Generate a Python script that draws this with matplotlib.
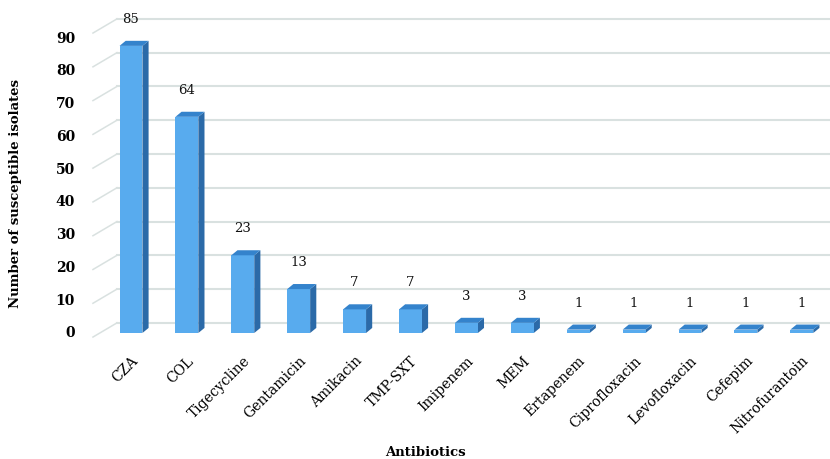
import matplotlib.pyplot as plt
from matplotlib.patches import Polygon

antibiotics = ["CZA", "COL", "Tigecycline", "Gentamicin", "Amikacin", "TMP-SXT",
               "Imipenem", "MEM", "Ertapenem", "Ciprofloxacin", "Levofloxacin",
               "Cefepim", "Nitrofurantoin"]
susceptible = [85, 64, 23, 13, 7, 7, 3, 3, 1, 1, 1, 1, 1]
grid_values = [0, 10, 20, 30, 40, 50, 60, 70, 80, 90]

# faux-3D geometry, in data units
BAR_W = 0.41
DEPTH_X, DEPTH_Y = 0.11, 1.5          # bar depth offset
WALL_X0, WALL_X1 = -0.68, -0.25       # side wall front / back edge
WALL_DY0, WALL_DY1 = -1.2, 3.0        # side wall rise front -> back

FRONT = "#58abee"
SIDE = "#2b6aa8"
TOP = "#3483cc"
GRID = "#d9e1e0"

plt.rcParams["font.family"] = "DejaVu Serif"

fig = plt.figure(figsize=(8.3, 4.59), dpi=100)
ax = fig.add_axes([90 / 830, 126 / 459, 740 / 830, 304 / 459])
ax.set_xlim(-0.733, 12.504)
ax.set_ylim(0, 90)
for s in ax.spines.values():
    s.set_visible(False)

# back wall and side wall gridlines
for v in grid_values:
    ax.plot([WALL_X1, 12.504], [v + WALL_DY1] * 2, color=GRID, lw=1.5,
            zorder=1, clip_on=False)
    ax.plot([WALL_X0, WALL_X1], [v + WALL_DY0, v + WALL_DY1], color=GRID,
            lw=1.1, zorder=1, clip_on=False)

x = list(range(len(antibiotics)))
ax.bar(x, susceptible, width=BAR_W, color=FRONT, zorder=3, clip_on=False)
for xi, v in zip(x, susceptible):
    r = xi + BAR_W / 2
    l = xi - BAR_W / 2
    side = Polygon([(r, 0), (r + DEPTH_X, DEPTH_Y), (r + DEPTH_X, v + DEPTH_Y), (r, v)],
                   closed=True, facecolor=SIDE, edgecolor="none", zorder=2, clip_on=False)
    top = Polygon([(l, v), (r, v), (r + DEPTH_X, v + DEPTH_Y), (l + DEPTH_X, v + DEPTH_Y)],
                  closed=True, facecolor=TOP, edgecolor="none", zorder=4, clip_on=False)
    ax.add_patch(side)
    ax.add_patch(top)
    ax.annotate(str(v), (xi, v), xytext=(0, 19), textcoords="offset points",
                ha="center", va="center", fontsize=9.5, color="#111111")

# y labels sit on the receding side wall
label_y = [0.3 + 0.97 * v for v in grid_values]
ax.set_yticks(label_y, [str(v) for v in grid_values])
ax.tick_params(axis="y", length=0, pad=10.8, labelsize=10)
for t in ax.get_yticklabels():
    t.set_fontweight("bold")

ax.set_xticks(x, antibiotics)
ax.tick_params(axis="x", length=0, pad=15, labelsize=10)
plt.setp(ax.get_xticklabels(), rotation=45, ha="right", rotation_mode="anchor")

fig.text(425 / 830, 1 - 453 / 459, "Antibiotics", ha="center", va="center",
         fontsize=9.5, fontweight="bold")
fig.text(16 / 830, 1 - 193 / 459, "Number of susceptible isolates", ha="center",
         va="center", rotation=90, fontsize=9.5, fontweight="bold")

fig.savefig("out.png", dpi=100)
